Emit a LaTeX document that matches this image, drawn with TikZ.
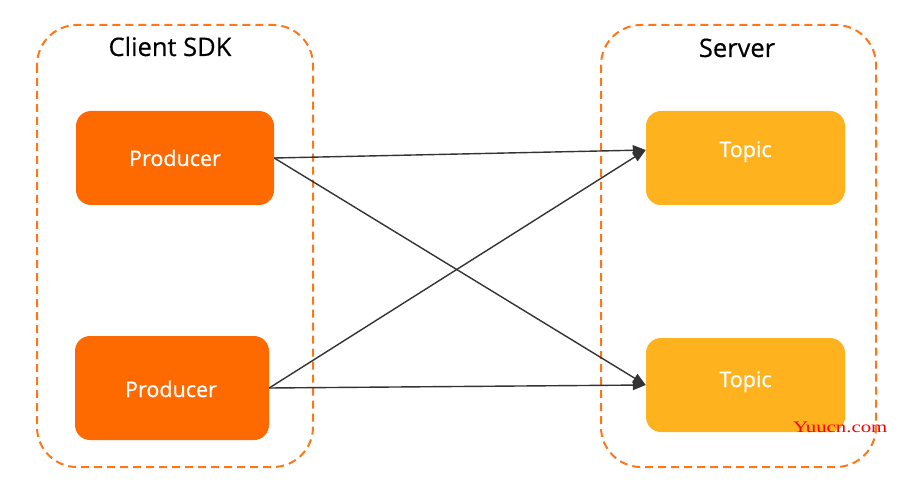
\documentclass[tikz,border=0pt]{standalone}
\usepackage{fontspec}
\setmainfont{Open Sans}
\newfontfamily\boxfont{Open Sans}[FakeBold=0.6]
\newfontfamily\titlefont{Open Sans}[FakeBold=0.4]
\newfontfamily\wmfont{Liberation Serif}[FakeStretch=1.3]
\usetikzlibrary{arrows.meta,calc}
\definecolor{prodorange}{RGB}{255,106,0}
\definecolor{topicyellow}{RGB}{254,179,30}
\definecolor{dashorange}{RGB}{255,118,25}
\definecolor{arrowgray}{RGB}{51,51,51}
\tikzset{
  container/.style={draw=dashorange, line width=2pt, dash pattern=on 8pt off 5pt, rounded corners=40pt},
  prodbox/.style={fill=prodorange, draw=none, rounded corners=15pt, inner sep=0pt},
  topicbox/.style={fill=topicyellow, draw=none, rounded corners=15pt, inner sep=0pt},
  boxtext/.style={text=white, font=\boxfont\fontsize{21.5}{25}\selectfont, anchor=base, inner sep=0pt},
  grouptitle/.style={text=black, font=\titlefont\fontsize{25.5}{30}\selectfont, anchor=base, inner sep=0pt},
  flow/.style={draw=arrowgray, line width=1.4pt, -{Triangle[length=13pt,width=10pt]}},
}
\begin{document}
\begin{tikzpicture}[x=1pt,y=-1pt]
\useasboundingbox (0,0) rectangle (902,481);
% containers
\draw[container] (37,25) rectangle (313,467);
\draw[container] (601,25) rectangle (876,467);
\node[grouptitle] (clientlbl) at (170,56) {Client SDK};
\node[grouptitle] (serverlbl) at (737,57) {Server};
% boxes
\node[prodbox, minimum width=198pt, minimum height=94pt] (p1) at (175,158) {};
\node[prodbox, minimum width=194pt, minimum height=104pt] (p2) at (172,388) {};
\node[topicbox, minimum width=199pt, minimum height=94pt] (t1) at (745.5,158) {};
\node[topicbox, minimum width=199pt, minimum height=94pt] (t2) at (745.5,385) {};
\node[boxtext] (p1txt) at (175,166) {Producer};
\node[boxtext] (p2txt) at (171,397) {Producer};
\node[boxtext] (t1txt) at (745.5,157) {Topic};
\node[boxtext] (t2txt) at (745.5,387) {Topic};
% arrow endpoints
\coordinate (t1in) at ($(t1.west)+(0,-8)$);
\coordinate (t2in) at (t2.west);
\coordinate (p1out) at (p1.east);
\coordinate (p2out) at (p2.east);
\draw[flow] (p1out) -- (t1in);
\draw[flow] (p1out) -- (t2in);
\draw[flow] (p2out) -- (t1in);
\draw[flow] (p2out) -- (t2in);
% watermark
\node[anchor=base west, inner sep=0pt, text=red, font=\wmfont\fontsize{16}{19}\selectfont] (wm) at (793,432) {Yuucn.com};
\end{tikzpicture}
\end{document}
